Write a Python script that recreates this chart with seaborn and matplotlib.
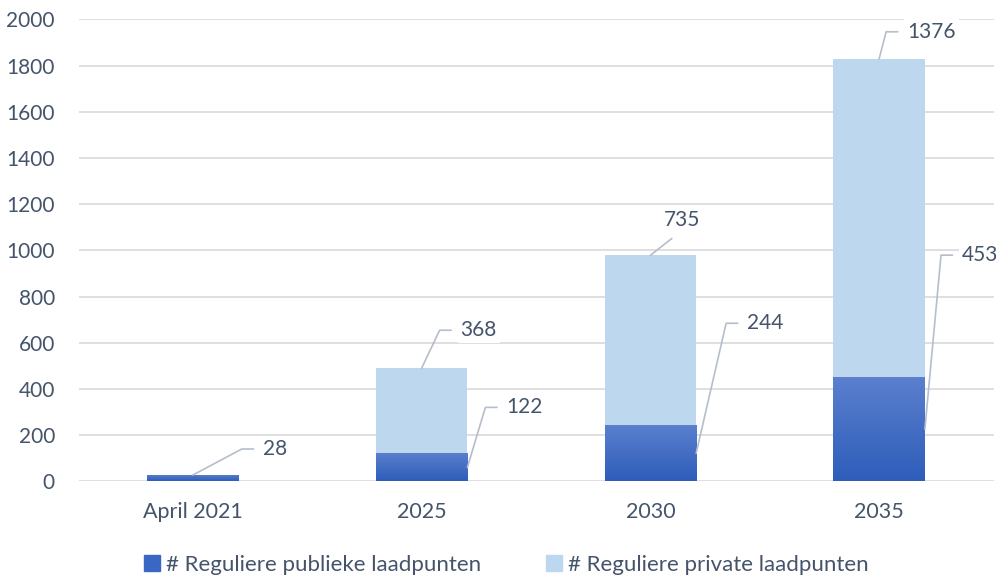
import matplotlib
matplotlib.use("Agg")
import matplotlib.pyplot as plt
import seaborn as sns
import pandas as pd
import numpy as np
from matplotlib.colors import LinearSegmentedColormap
from matplotlib.patches import Patch

# data
categories = ['April 2021', '2025', '2030', '2035']
publiek = [28, 122, 244, 453]
private = [0, 368, 735, 1376]
series_names = ['# Reguliere publieke laadpunten', '# Reguliere private laadpunten']
yticks = [0, 200, 400, 600, 800, 1000, 1200, 1400, 1600, 1800, 2000]

df = pd.DataFrame({'jaar': categories, 'publiek': publiek, 'private': private})
df['totaal'] = df['publiek'] + df['private']

text_color = '#44546A'
light_blue = '#BDD7EE'
dark_top = '#5B80CE'
dark_bottom = '#2E5DBA'
leader_color = '#B4BECC'
fs = 15

sns.set_theme(style='white')
plt.rcParams['font.family'] = ['Lato', 'DejaVu Sans']

fig = plt.figure(figsize=(9.99, 5.81), dpi=100)
ax = fig.add_axes([0.0786, 0.1713, 0.9159, 0.7955])

sns.barplot(data=df, x='jaar', y='totaal', color=light_blue, width=0.4,
            saturation=1, ax=ax, edgecolor='none', zorder=2)
sns.barplot(data=df, x='jaar', y='publiek', color=dark_bottom, width=0.4,
            saturation=1, ax=ax, edgecolor='none', zorder=2)

# gradient fill on the publiek bars
cmap = LinearSegmentedColormap.from_list('grad', [dark_bottom, dark_top])
grad = np.linspace(0, 1, 256).reshape(-1, 1)
for p in ax.patches[len(categories):]:
    x0, y0 = p.get_x(), p.get_y()
    im = ax.imshow(grad, cmap=cmap, origin='lower', aspect='auto', zorder=3,
                   extent=[x0, x0 + p.get_width(), y0, y0 + p.get_height()])
    im.set_clip_path(p)

ax.set_xlim(-0.5, len(categories) - 0.5)
ax.set_ylim(0, 2000)
ax.set_yticks(yticks)
ax.set_xlabel('')
ax.set_ylabel('')
ax.set_axisbelow(True)
ax.yaxis.grid(True, color='#D9D9D9', lw=1.2)
ax.xaxis.grid(False)
for s in ax.spines.values():
    s.set_visible(False)
ax.tick_params(axis='y', length=0, pad=17, labelsize=fs, labelcolor=text_color)
ax.tick_params(axis='x', length=0, pad=15, labelsize=15.5, labelcolor=text_color)


def label(value, xy, offset, above=False):
    if above:
        conn, relpos, ha, shrink = 'arc3', (0.5, 0), 'center', 6
    else:
        ang = np.degrees(np.arctan2(offset[1], offset[0] - 21))
        conn, relpos, ha, shrink = f'angle,angleA=0,angleB={ang:.1f},rad=0', (0, 0.5), 'left', 4.5
    ax.annotate(str(value), xy=xy, xytext=offset, textcoords='offset pixels',
                ha=ha, va='center', fontsize=fs, color=text_color, zorder=5,
                bbox=dict(boxstyle='square,pad=0.15', fc='white', ec='none'),
                arrowprops=dict(arrowstyle='-', color=leader_color, lw=1.2,
                                relpos=relpos, shrinkA=shrink, shrinkB=0,
                                connectionstyle=conn))


# publiek labels
label(publiek[0], (0, publiek[0]), (70, 26))
label(publiek[1], (1.2, publiek[1] / 2), (39, 60))
label(publiek[2], (2.2, publiek[2] / 2), (51, 130))
label(publiek[3], (3.2, publiek[3] / 2), (37, 174))
# private labels
tot = df['totaal'].tolist()
label(private[1], (1, tot[1]), (39, 38))
label(private[2], (2, tot[2]), (32, 35), above=True)
label(private[3], (3, tot[3]), (28, 27))

handles = [Patch(color='#3A66C4'), Patch(color=light_blue)]
fig.legend(handles, series_names, loc='center', bbox_to_anchor=(0.507, 1 - 565 / 581),
           ncol=2, frameon=False, fontsize=16, handlelength=0.7, handleheight=0.7,
           handletextpad=0.3, columnspacing=2.9, labelcolor=text_color)

fig.savefig('out.png', dpi=100)
